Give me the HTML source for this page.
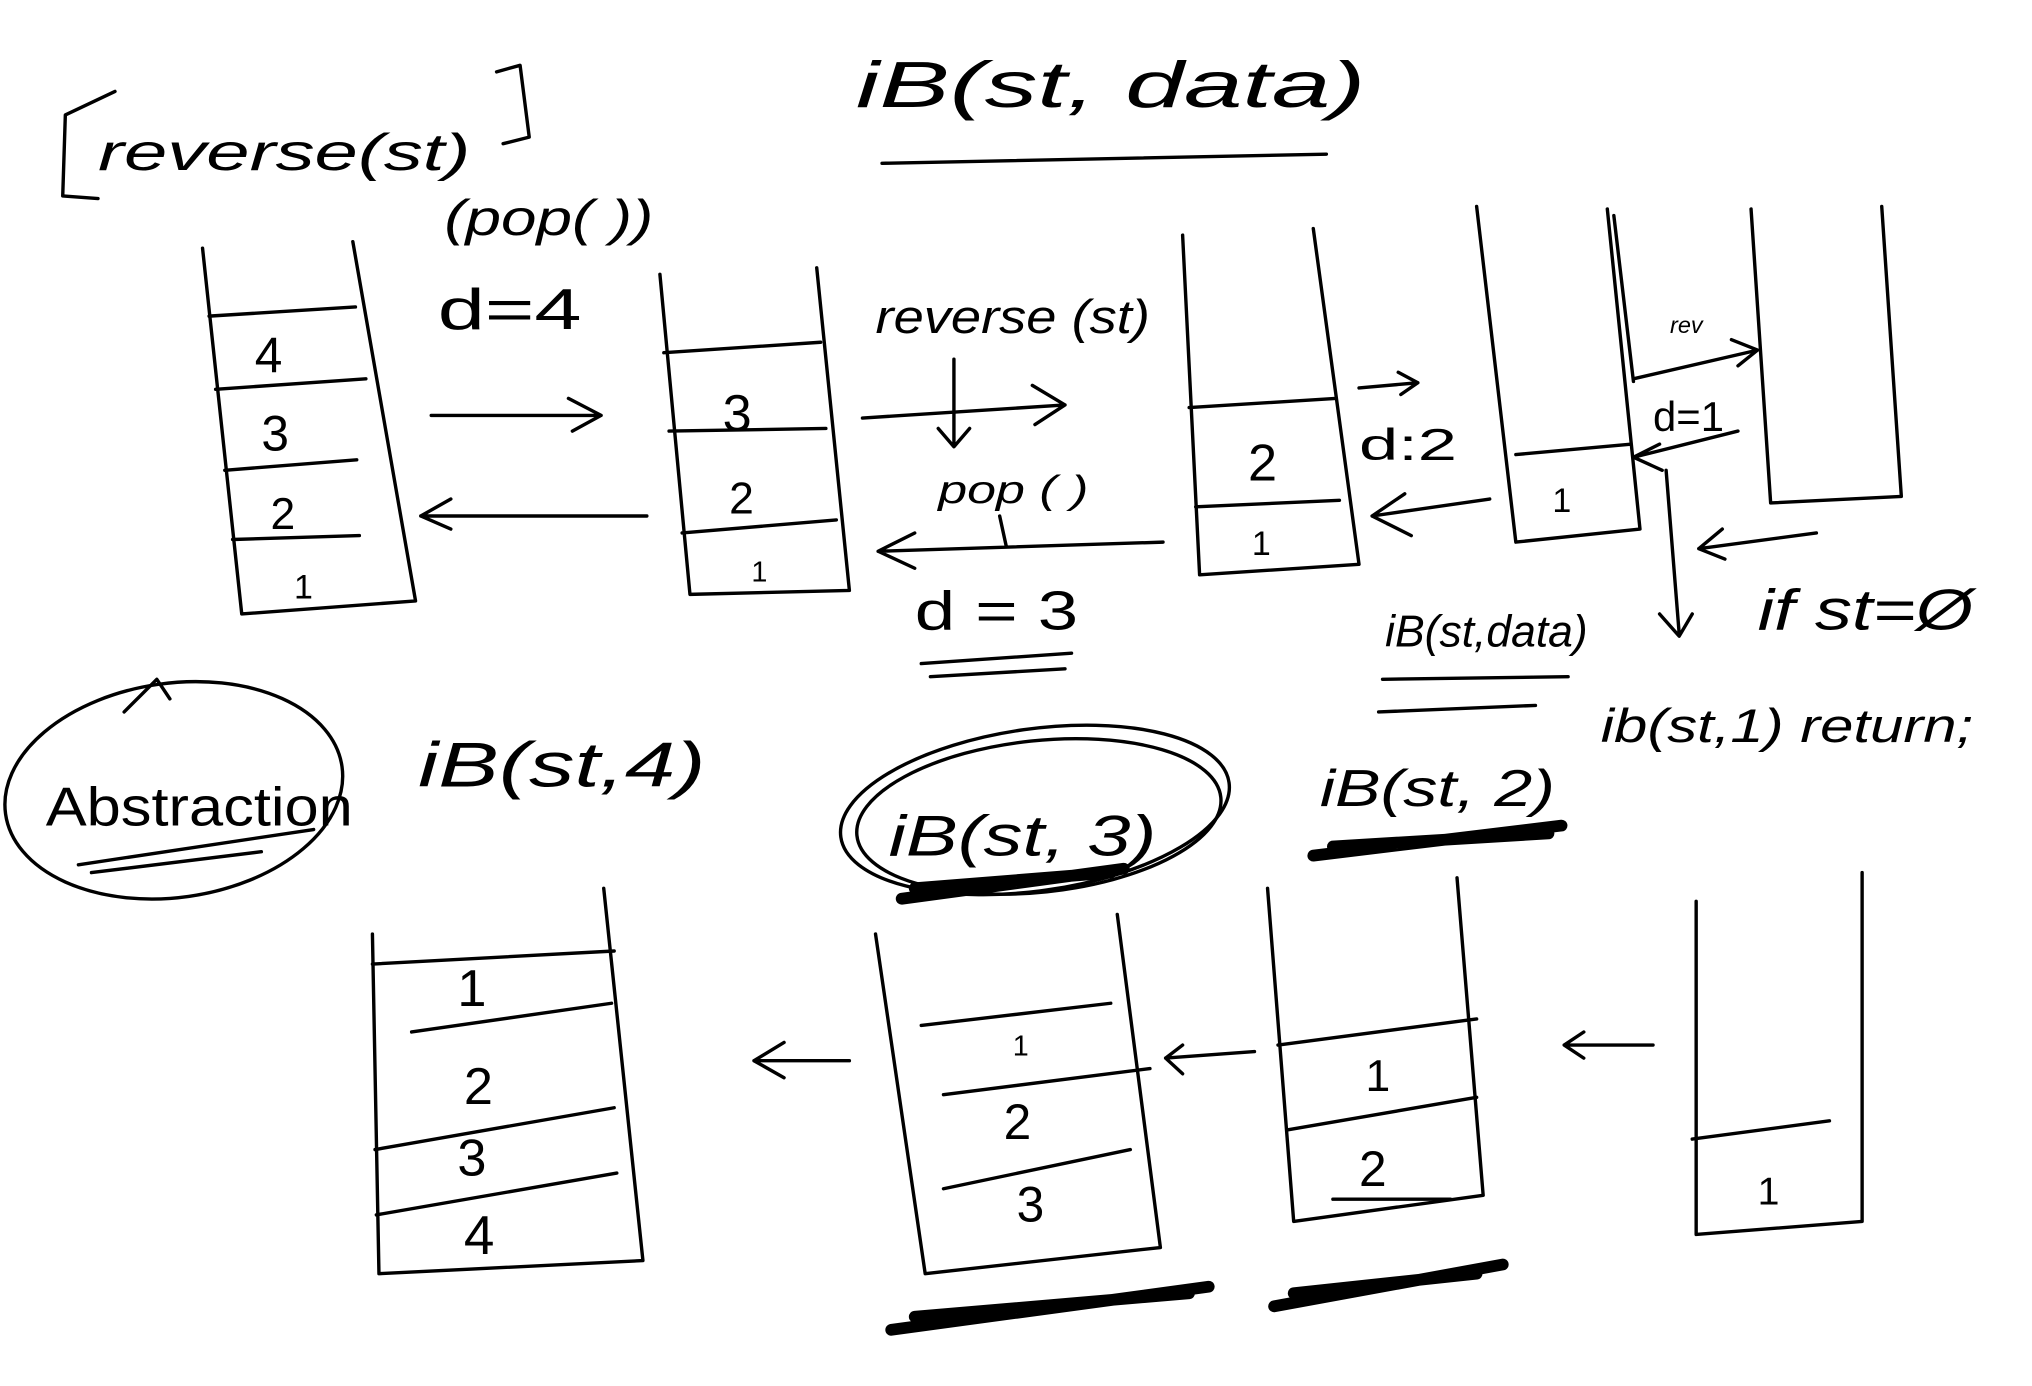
<!DOCTYPE html>
<html><head><meta charset="utf-8"><style>
html,body{margin:0;padding:0;background:#fff;}
svg{display:block;}
text{font-family:"Liberation Sans",sans-serif;fill:#000;}
.s{fill:none;stroke:#000;stroke-width:2.6;stroke-linecap:round;stroke-linejoin:round;}
.h{fill:none;stroke:#000;stroke-width:9;stroke-linecap:round;}
</style></head><body>
<svg width="2032" height="1386" viewBox="0 0 1555 1061" preserveAspectRatio="none">
<g>
<path class="s" d="M88,70 L50,88 L48,150 L75,152"/>
<path class="s" d="M380,55 L398,50 L405,105 L385,110"/>
<text x="75" y="130" font-size="40" font-style="italic" textLength="285" lengthAdjust="spacingAndGlyphs">reverse(st)</text>
</g>
<g>
<text x="655" y="82" font-size="50" font-style="italic" textLength="390" lengthAdjust="spacingAndGlyphs">iB(st, data)</text>
<path class="s" d="M675,125 L1015,118"/>
</g>
<text x="340" y="180" font-size="38" font-style="italic" textLength="160" lengthAdjust="spacingAndGlyphs">(pop( ))</text>
<text x="335" y="252" font-size="44" textLength="110" lengthAdjust="spacingAndGlyphs">d=4</text>

<g>
<path class="s" d="M155,190 L185,470 L318,460 L270,185"/>
<path class="s" d="M160,242 L272,235 M165,298 L280,290 M172,360 L273,352 M178,413 L275,410"/>
<text x="195" y="285" font-size="38">4</text><text x="200" y="345" font-size="38">3</text>
<text x="207" y="405" font-size="34">2</text><text x="225" y="458" font-size="26">1</text>
</g>
<path class="s" d="M330,318 L460,318 M435,305 L460,318 L438,330"/>
<path class="s" d="M495,395 L322,395 M345,382 L322,395 L345,405"/>

<g>
<path class="s" d="M505,210 L528,455 L650,452 L625,205"/>
<path class="s" d="M508,270 L628,262 M512,330 L632,328 M522,408 L640,398"/>
<text x="553" y="330" font-size="40">3</text><text x="558" y="393" font-size="34">2</text><text x="575" y="445" font-size="22">1</text>
</g>
<text x="670" y="255" font-size="36" font-style="italic" textLength="210" lengthAdjust="spacingAndGlyphs">reverse (st)</text>
<path class="s" d="M660,320 L815,310 M790,295 L815,310 L792,325"/>
<path class="s" d="M730,275 L730,340 M718,328 L730,342 L742,328"/>
<text x="718" y="385" font-size="30" font-style="italic" textLength="115" lengthAdjust="spacingAndGlyphs">pop ( )</text>
<path class="s" d="M890,415 L672,422 M700,408 L672,422 L700,435 M765,395 L770,418"/>
<text x="700" y="482" font-size="42" textLength="125" lengthAdjust="spacingAndGlyphs">d = 3</text>
<path class="s" d="M705,508 L820,500 M712,518 L815,512"/>

<g>
<path class="s" d="M905,180 L918,440 L1040,432 L1005,175"/>
<path class="s" d="M910,312 L1022,305 M915,388 L1025,383"/>
<text x="955" y="368" font-size="40">2</text><text x="958" y="425" font-size="26">1</text>
</g>
<path class="s" d="M1040,297 L1085,293 M1070,285 L1085,293 L1072,302"/>
<text x="1040" y="352" font-size="34" textLength="75" lengthAdjust="spacingAndGlyphs">d:2</text>
<path class="s" d="M1140,382 L1050,395 M1075,378 L1050,395 L1080,410"/>

<g>
<path class="s" d="M1130,158 L1160,415 L1255,405 L1230,160"/>
<path class="s" d="M1160,348 L1248,340"/>
<text x="1188" y="392" font-size="26">1</text>
</g>

<g>
<path class="s" d="M1340,160 L1355,385 L1455,380 L1440,158"/>
</g>
<path class="s" d="M1235,165 L1250,292"/>
<text x="1278" y="255" font-size="18" font-style="italic">rev</text>
<path class="s" d="M1250,290 L1345,268 M1325,260 L1345,268 L1330,280"/>
<text x="1265" y="330" font-size="32">d=1</text>
<path class="s" d="M1330,330 L1250,350 M1270,340 L1250,350 L1272,360"/>
<path class="s" d="M1275,360 L1285,485 M1270,470 L1285,487 L1295,470"/>
<path class="s" d="M1390,408 L1300,420 M1318,405 L1300,420 L1320,428"/>
<text x="1060" y="495" font-size="34" font-style="italic" textLength="155" lengthAdjust="spacingAndGlyphs">iB(st,data)</text>
<path class="s" d="M1058,520 L1200,518 M1055,545 L1175,540"/>
<text x="1345" y="482" font-size="44" font-style="italic" textLength="165" lengthAdjust="spacingAndGlyphs">if st=Ø</text>
<text x="1225" y="568" font-size="36" font-style="italic" textLength="285" lengthAdjust="spacingAndGlyphs">ib(st,1) return;</text>

<g>
<ellipse class="s" cx="133" cy="605" rx="130" ry="82" transform="rotate(-8 133 605)"/>
<path class="s" d="M95,545 L120,520 L130,535"/>
<text x="35" y="632" font-size="42" textLength="235" lengthAdjust="spacingAndGlyphs">Abstraction</text>
<path class="s" d="M60,662 L240,635 M70,668 L200,652"/>
</g>
<text x="320" y="602" font-size="48" font-style="italic" textLength="220" lengthAdjust="spacingAndGlyphs">iB(st,4)</text>

<g>
<ellipse class="s" cx="792" cy="620" rx="150" ry="62" transform="rotate(-8 792 620)"/>
<ellipse class="s" cx="795" cy="625" rx="140" ry="58" transform="rotate(-6 795 625)"/>
<text x="680" y="655" font-size="44" font-style="italic" textLength="205" lengthAdjust="spacingAndGlyphs">iB(st, 3)</text>
<path class="h" d="M690,688 L860,665 M700,680 L850,668"/>
</g>
<text x="1010" y="617" font-size="40" font-style="italic" textLength="180" lengthAdjust="spacingAndGlyphs">iB(st, 2)</text>
<path class="h" d="M1005,655 L1195,632 M1020,648 L1185,638"/>

<g>
<path class="s" d="M285,715 L290,975 L492,965 L462,680"/>
<path class="s" d="M285,738 L470,728 M315,790 L468,768 M287,880 L470,848 M288,930 L472,898"/>
<text x="350" y="770" font-size="40">1</text><text x="355" y="845" font-size="40">2</text>
<text x="350" y="900" font-size="40">3</text><text x="355" y="960" font-size="42">4</text>
</g>
<path class="s" d="M650,812 L577,812 M600,798 L577,812 L600,825"/>
<g>
<path class="s" d="M670,715 L708,975 L888,955 L855,700"/>
<path class="s" d="M705,785 L850,768 M722,838 L880,818 M722,910 L865,880"/>
<text x="775" y="808" font-size="22">1</text><text x="768" y="872" font-size="38">2</text><text x="778" y="935" font-size="38">3</text>
<path class="h" d="M682,1018 L925,985 M700,1008 L910,990"/>
</g>
<path class="s" d="M960,805 L892,810 M905,800 L892,810 L905,822"/>
<g>
<path class="s" d="M970,680 L990,935 L1135,915 L1115,672"/>
<path class="s" d="M978,800 L1130,780 M985,865 L1130,840 M1020,918 L1110,918"/>
<text x="1045" y="835" font-size="34">1</text><text x="1040" y="908" font-size="38">2</text>
<path class="h" d="M975,1000 L1150,968 M990,990 L1130,975"/>
</g>
<path class="s" d="M1265,800 L1197,800 M1212,790 L1197,800 L1212,810"/>
<g>
<path class="s" d="M1298,690 L1298,945 L1425,935 L1425,668"/>
<path class="s" d="M1295,872 L1400,858"/>
<text x="1345" y="922" font-size="30">1</text>
</g>
</svg>
</body></html>
